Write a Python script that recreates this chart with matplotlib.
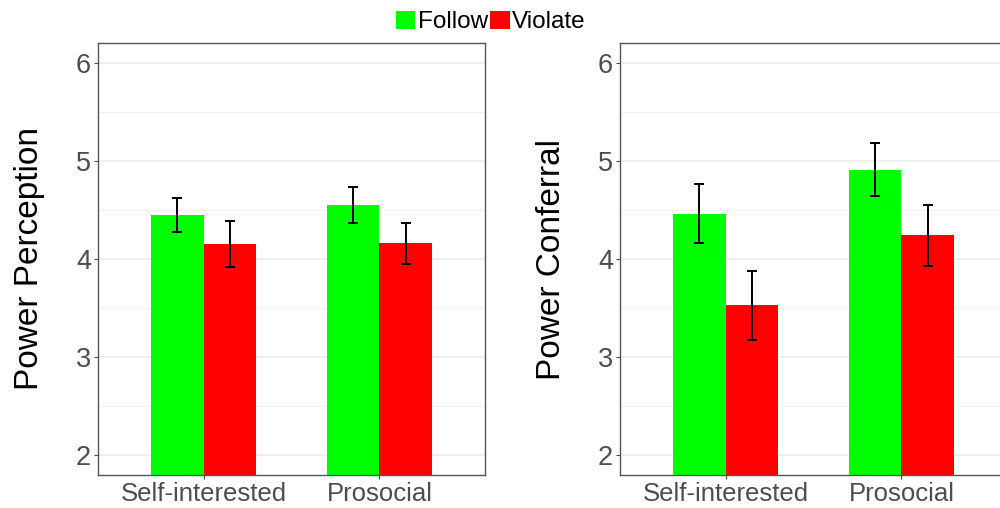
import numpy as np
import matplotlib
matplotlib.use("Agg")
import matplotlib.pyplot as plt
from matplotlib.patches import Patch

plt.rcParams['font.family'] = ['Liberation Sans', 'DejaVu Sans']

# data
categories = ['Self-interested', 'Prosocial']
groups = ['Follow', 'Violate']
colors = ['#00FF00', '#FF0000']

perception_follow = [4.45, 4.55]
perception_follow_err = [0.17, 0.185]
perception_violate = [4.15, 4.16]
perception_violate_err = [0.235, 0.21]

conferral_follow = [4.46, 4.91]
conferral_follow_err = [0.30, 0.27]
conferral_violate = [3.53, 4.24]
conferral_violate_err = [0.35, 0.31]

fig = plt.figure(figsize=(10, 5.08), dpi=100)
W, H = 1000, 508
ax1 = fig.add_axes([98 / W, 33 / H, 387 / W, 432 / H])
ax2 = fig.add_axes([620 / W, 33 / H, 387 / W, 432 / H])


def panel(ax, follow, follow_err, violate, violate_err, ylabel):
    x = np.arange(1, len(categories) + 1)
    w = 0.3
    for vals, errs, off, c in [(follow, follow_err, -w / 2, colors[0]),
                               (violate, violate_err, w / 2, colors[1])]:
        ax.bar(x + off, np.array(vals) - 1.8, w, bottom=1.8, color=c, zorder=2)
        ax.errorbar(x + off, vals, yerr=errs, fmt='none', ecolor='black',
                    elinewidth=1.4, capsize=3.3, capthick=1.4, zorder=3)
    ax.set_xlim(0.4, 2.6)
    ax.set_ylim(1.8, 6.2)
    ax.set_xticks(x)
    ax.set_xticklabels(categories)
    ax.set_yticks([2, 3, 4, 5, 6])
    ax.set_yticks([2.5, 3.5, 4.5, 5.5], minor=True)
    ax.grid(axis='y', which='major', color='#EBEBEB', lw=1.1, zorder=0)
    ax.grid(axis='y', which='minor', color='#F2F2F2', lw=0.8, zorder=0)
    ax.tick_params(axis='both', which='major', labelsize=18.5, colors='#4D4D4D',
                   length=3, width=0.8, pad=2)
    ax.tick_params(axis='y', which='major', labelsize=19.5)
    ax.tick_params(axis='y', which='minor', length=0)
    for s in ax.spines.values():
        s.set_color('#555555')
        s.set_linewidth(1.0)
    ax.set_ylabel(ylabel, fontsize=24, color='black', labelpad=22)
    ax.set_axisbelow(True)


panel(ax1, perception_follow, perception_follow_err,
      perception_violate, perception_violate_err, 'Power Perception')
panel(ax2, conferral_follow, conferral_follow_err,
      conferral_violate, conferral_violate_err, 'Power Conferral')

handles = [Patch(facecolor=c, edgecolor='none') for c in colors]
fig.legend(handles, groups, loc='center', bbox_to_anchor=(0.491, 1 - 22 / H),
           ncol=2, frameon=False, fontsize=17.5, handlelength=0.8,
           handleheight=0.8, handletextpad=0.1, columnspacing=0.1,
           borderpad=0)

fig.savefig('out.png', dpi=100)
